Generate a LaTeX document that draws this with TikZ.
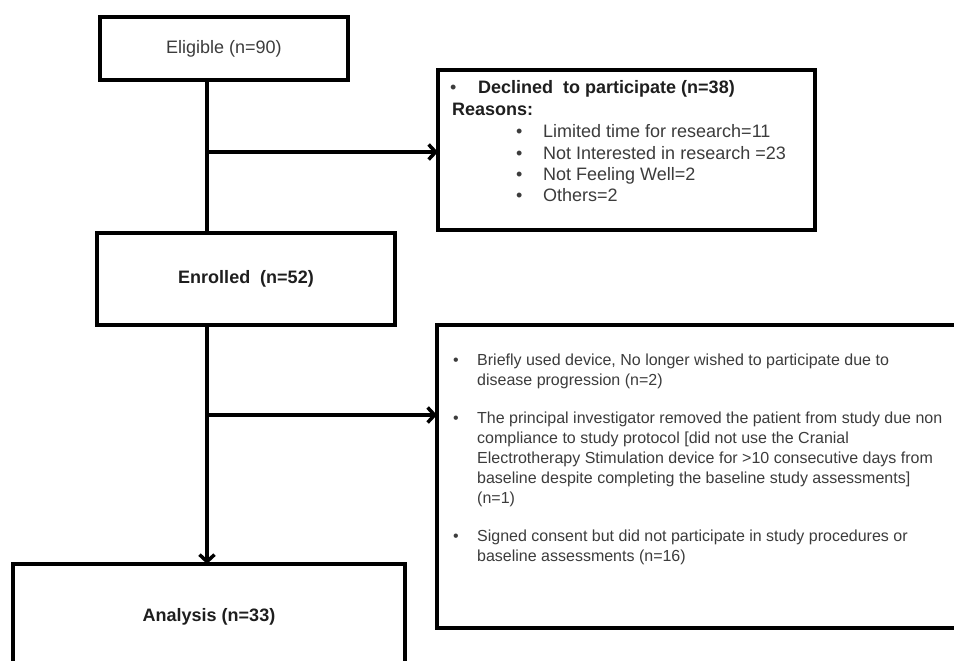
\documentclass[tikz,border=0pt]{standalone}
\usepackage{fontspec}
\setmainfont{Liberation Sans}
\usetikzlibrary{arrows.meta}
\definecolor{txtreg}{RGB}{60,60,60}
\definecolor{txtbold}{RGB}{30,30,30}
\tikzset{
  boxstyle/.style={draw=black, line width=4pt, rectangle, inner sep=0pt, outer sep=0pt},
  conn/.style={draw=black, line width=3.5pt},
  arr/.style={conn, -{Straight Barb[length=7pt,width=15pt]}},
  big/.style={font=\fontsize{18}{21}\selectfont, text=txtreg, inner sep=0pt, anchor=base west},
  bigb/.style={font=\fontsize{18}{21}\selectfont\bfseries, text=txtbold, inner sep=0pt, anchor=base west},
  small/.style={font=\fontsize{16}{19}\selectfont, text=txtreg, inner sep=0pt, anchor=base west},
}
\begin{document}
\begin{tikzpicture}[x=1pt,y=-1pt]
\useasboundingbox (0,0) rectangle (954,661);
\clip (0,0) rectangle (954,661);
\fill[white] (0,0) rectangle (954,661);

% boxes
\node[boxstyle, minimum width=248pt, minimum height=63pt, font=\fontsize{18}{21}\selectfont, text=txtreg] (elig) at (224,48.5) {Eligible (n=90)};
\node[boxstyle, minimum width=298pt, minimum height=92pt, font=\fontsize{18}{21}\selectfont\bfseries, text=txtbold] (enr) at (246,279) {Enrolled\ \ (n=52)};
\node[boxstyle, minimum width=392pt, minimum height=106pt, font=\fontsize{18}{21}\selectfont\bfseries, text=txtbold] (ana) at (209,617) {Analysis (n=33)};
\node[boxstyle, minimum width=377pt, minimum height=160pt] (decl) at (626.5,150) {};
\node[boxstyle, minimum width=540pt, minimum height=303pt] (excl) at (707,476.5) {};

% trunk coordinates
\coordinate (j1) at (207,152);
\coordinate (j2) at (207,415);

% connectors
\draw[conn] (elig.south -| j1) -- (enr.north -| j1);
\draw[arr] (j1) -- (decl.west |- j1);
\draw[arr] (enr.south -| j2) -- (ana.north -| j2);
\draw[arr] (j2) -- (excl.west |- j2);

% declined text
\node[big]  (db1) at (450,94) {•};
\node[bigb] (dt1) at (478,94) {Declined\ \ to participate (n=38)};
\node[bigb] (dt2) at (452,116) {Reasons:};
\node[big]  (db3) at (516,138) {•};
\node[big]  (dt3) at (543,138) {Limited time for research=11};
\node[big]  (db4) at (516,159) {•};
\node[big]  (dt4) at (543,159) {Not Interested in research =23};
\node[big]  (db5) at (516,180) {•};
\node[big]  (dt5) at (543,180) {Not Feeling Well=2};
\node[big]  (db6) at (516,201) {•};
\node[big]  (dt6) at (543,201) {Others=2};

% exclusion text
\node[small] (eb1) at (453,365) {•};
\node[small] (e1a) at (477,365) {Briefly used device, No longer wished to participate due to};
\node[small] (e1b) at (477,385) {disease progression (n=2)};
\node[small] (eb2) at (453,423) {•};
\node[small] (e2a) at (477,423) {The principal investigator removed the patient from study due non};
\node[small] (e2b) at (477,443) {compliance to study protocol [did not use the Cranial};
\node[small] (e2c) at (477,463) {Electrotherapy Stimulation device for >10 consecutive days from};
\node[small] (e2d) at (477,483) {baseline despite completing the baseline study assessments]};
\node[small] (e2e) at (477,503) {(n=1)};
\node[small] (eb3) at (453,541) {•};
\node[small] (e3a) at (477,541) {Signed consent but did not participate in study procedures or};
\node[small] (e3b) at (477,561) {baseline assessments (n=16)};
\end{tikzpicture}
\end{document}
